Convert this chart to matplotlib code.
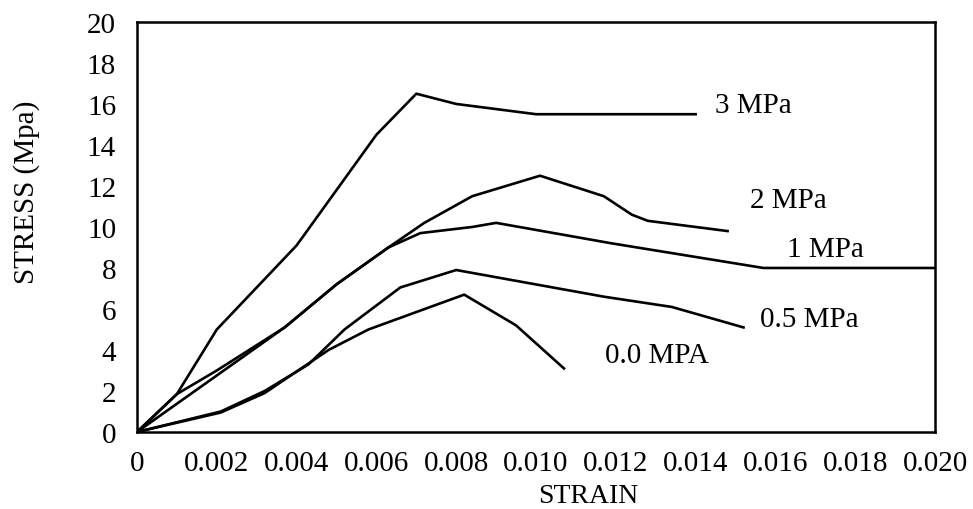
import numpy as np
import matplotlib
matplotlib.use("Agg")
import matplotlib.pyplot as plt

plt.rcParams["font.family"] = ["Liberation Serif", "DejaVu Serif"]

# strain / stress
strain_3 = [0, 0.001, 0.002, 0.004, 0.006, 0.007, 0.008, 0.010, 0.014]
stress_3 = [0, 1.85, 5.0, 9.1, 14.5, 16.5, 16.0, 15.5, 15.5]

strain_2 = [0, 0.001, 0.002, 0.0037, 0.005, 0.0063, 0.0072, 0.0084, 0.0101, 0.0117, 0.0124, 0.0128, 0.0148]
stress_2 = [0, 1.85, 3.0, 5.1, 7.2, 9.0, 10.2, 11.5, 12.5, 11.5, 10.6, 10.3, 9.8]

strain_1 = [0, 0.0037, 0.005, 0.0063, 0.0071, 0.0084, 0.009, 0.0119, 0.0157, 0.020]
stress_1 = [0, 5.1, 7.2, 9.0, 9.7, 10.0, 10.2, 9.2, 8.0, 8.0]

strain_05 = [0, 0.0021, 0.0032, 0.0043, 0.0052, 0.0066, 0.008, 0.0117, 0.0134, 0.0152]
stress_05 = [0, 1.0, 2.0, 3.3, 5.0, 7.05, 7.9, 6.6, 6.1, 5.1]

strain_0 = [0, 0.0021, 0.0032, 0.0048, 0.0058, 0.0082, 0.0095, 0.0107]
stress_0 = [0, 0.95, 1.9, 4.0, 5.0, 6.7, 5.2, 3.1]

labels = ["3 MPa", "2 MPa", "1 MPa", "0.5 MPa", "0.0 MPA"]
label_x = [0.01448, 0.01535, 0.0163, 0.01562, 0.01172]
label_y = [15.61, 10.98, 8.59, 5.17, 3.41]

xticks = [0, 0.002, 0.004, 0.006, 0.008, 0.010, 0.012, 0.014, 0.016, 0.018, 0.020]
xticklabels = ["0", "0.002", "0.004", "0.006", "0.008", "0.010", "0.012",
               "0.014", "0.016", "0.018", "0.020"]
yticks = np.arange(0, 21, 2)

fig = plt.figure(figsize=(9.73, 5.10), dpi=100)
ax = fig.add_axes([0.1408, 0.151, 0.8202, 0.804])

for xs, ys in [(strain_3, stress_3), (strain_2, stress_2), (strain_1, stress_1),
               (strain_05, stress_05), (strain_0, stress_0)]:
    ax.plot(xs, ys, color="black", lw=1.9)

for lab, lx, ly in zip(labels, label_x, label_y):
    ax.text(lx, ly, lab, fontsize=21, ha="left", va="baseline")

ax.set_xlim(0, 0.020)
ax.set_ylim(0, 20)
ax.set_xticks(xticks)
ax.set_xticklabels(xticklabels, fontsize=21)
ax.set_yticks(yticks)
ax.set_yticklabels([str(v) for v in yticks], fontsize=21)
ax.tick_params(length=0)
ax.tick_params(axis="x", pad=13)
ax.tick_params(axis="y", pad=15)
for s in ax.spines.values():
    s.set_linewidth(1.8)

ax.set_xlabel("STRAIN", fontsize=20)
ax.xaxis.set_label_coords(0.565, -0.125)
ax.set_ylabel("STRESS (Mpa)", fontsize=21)
ax.yaxis.set_label_coords(-0.122, 0.588)

fig.savefig("out.png", dpi=100)
